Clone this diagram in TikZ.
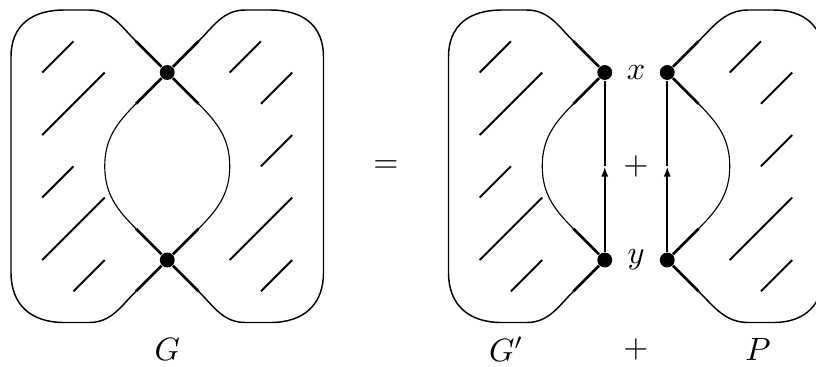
\documentclass[tikz,border=0pt]{standalone}
\usetikzlibrary{arrows.meta}
\begin{document}
\begin{tikzpicture}[x=0.34cm,y=0.34cm,
  dot/.style={circle,fill,inner sep=0pt,minimum size=4.6pt},
  rim/.style={line width=0.45pt},
  lens/.style={line width=0.35pt},
  seg/.style={line width=0.8pt},
  hatch/.style={line width=0.6pt},
  flow/.style={line width=0.6pt},
  tip/.style={-{Latex[length=3.2pt,width=2.2pt]}}]
\useasboundingbox (-0.352,-1.42) rectangle (25.76,10.32);

%%% 点
\node[dot] (gx) at (5,8) {};
\node[dot] (gy) at (5,2) {};
\node[dot] (hx) at (19,8) {};
\node[dot] (hy) at (19,2) {};
\node[dot] (px) at (21,8) {};
\node[dot] (py) at (21,2) {};
%%%

%% G 外側
\draw[rim] (4,9) to[out=135,in=0] (2.5,10) --(1.7,10) to[out=180,in=90,looseness=1.15] (0,8.5)
  --(0,1.6) to[out=-90,in=180,looseness=1.15] (1.7,0) --(2.5,0) to[out=0,in=-135] (4,1);
\draw[rim] (6,9) to[out=45,in=180] (7.5,10) --(8.3,10) to[out=0,in=90,looseness=1.15] (10,8.5)
  --(10,1.6) to[out=-90,in=0,looseness=1.15] (8.3,0) --(7.5,0) to[out=180,in=-45] (6,1);
%% G 内側
\draw[lens] (4,3) to[out=135,in=-90] (3,5) to[out=90,in=-135] (4,7);
\draw[lens] (6,3) to[out=45,in=-90] (7,5) to[out=90,in=-45] (6,7);
%% G 太線
\draw[seg] (gx) --(4,9);
\draw[seg] (gx) --(6,9);
\draw[seg] (gx) --(4,7);
\draw[seg] (gx) --(6,7);
\draw[seg] (gy) --(4,1);
\draw[seg] (gy) --(6,1);
\draw[seg] (gy) --(4,3);
\draw[seg] (gy) --(6,3);

%% G' 外側・内側
\draw[rim] (18,9) to[out=135,in=0] (16.5,10) --(15.7,10) to[out=180,in=90,looseness=1.15] (14,8.5)
  --(14,1.6) to[out=-90,in=180,looseness=1.15] (15.7,0) --(16.5,0) to[out=0,in=-135] (18,1);
\draw[lens] (18,3) to[out=135,in=-90] (17,5) to[out=90,in=-135] (18,7);
\draw[seg] (hx) --(18,9);
\draw[seg] (hx) --(18,7);
\draw[seg] (hy) --(18,1);
\draw[seg] (hy) --(18,3);

%% P 外側・内側
\draw[rim] (22,9) to[out=45,in=180] (23.6,10) --(24.4,10) to[out=0,in=90,looseness=1.15] (26,8.5)
  --(26,1.6) to[out=-90,in=0,looseness=1.15] (24.4,0) --(23.6,0) to[out=180,in=-45] (22,1);
\draw[lens] (22,3) to[out=45,in=-90] (23,5) to[out=90,in=-45] (22,7);
\draw[seg] (px) --(22,9);
\draw[seg] (px) --(22,7);
\draw[seg] (py) --(22,1);
\draw[seg] (py) --(22,3);

%% 矢印
\coordinate (hm) at (19,5);
\coordinate (pm) at (21,5);
\draw[flow,tip] (hy) --(hm);
\draw[flow] (hm) --(hx);
\draw[flow,tip] (py) --(pm);
\draw[flow] (pm) --(px);

%% 斜線
% G
\draw[hatch] (1,8) --(2,9);
\draw[hatch] (1,6) --(3,8);
\draw[hatch] (1,4) --(2,5);
\draw[hatch] (1,2) --(3,4);
\draw[hatch] (2,1) --(3,2);
\draw[hatch] (7,8) --(8,9);
\draw[hatch] (8,7) --(9,8);
\draw[hatch] (8,5) --(9,6);
\draw[hatch] (7,2) --(9,4);
\draw[hatch] (8,1) --(9,2);
% G'
\draw[hatch] (15,8) --(16,9);
\draw[hatch] (15,6) --(17,8);
\draw[hatch] (15,4) --(16,5);
\draw[hatch] (15,2) --(17,4);
\draw[hatch] (16,1) --(17,2);
% P
\draw[hatch] (23,8) --(24,9);
\draw[hatch] (24,7) --(25,8);
\draw[hatch] (24,5) --(25,6);
\draw[hatch] (23,2) --(25,4);
\draw[hatch] (24,1) --(25,2);

%% 文字
\node (eq) at (12,5) {$=$};
\node (lx) at (20,8) {$x$};
\node (ly) at (20,2) {$y$};
\node (pl) at (20,5) {$+$};
\node (lg) at (5,-0.85) {$G$};
\node (lh) at (15.85,-0.85) {$G'$};
\node (lp) at (20,-0.85) {$+$};
\node (lq) at (23.9,-0.85) {$P$};

\end{tikzpicture}
\end{document}
